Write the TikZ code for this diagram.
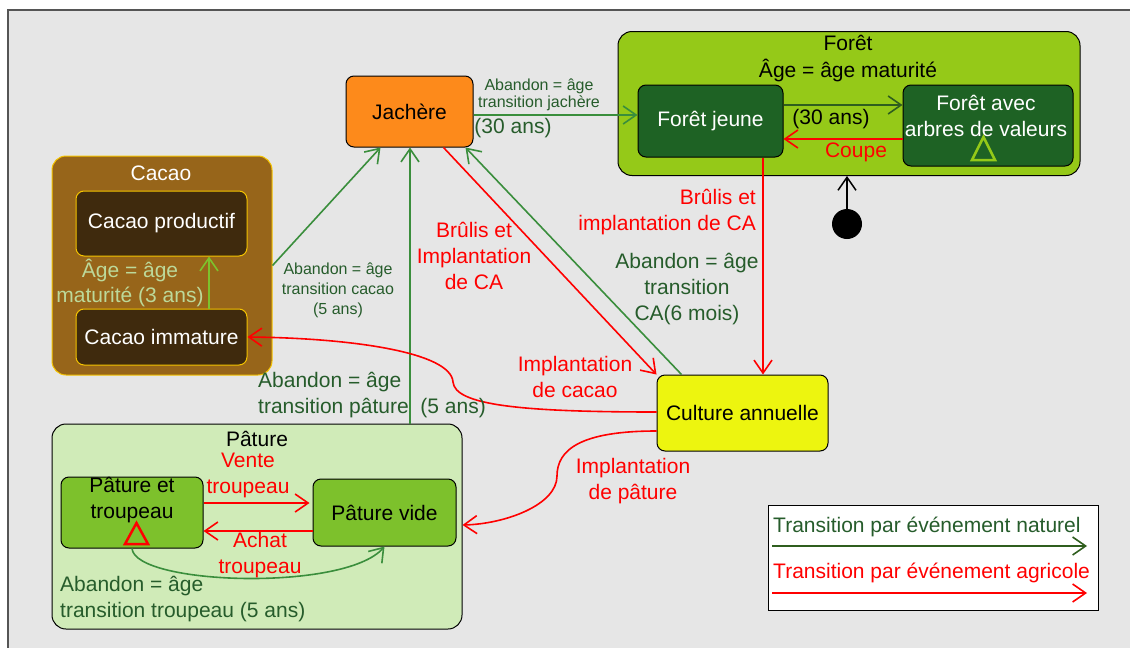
\documentclass[tikz,border=0pt]{standalone}
\usepackage{fontspec}
\setmainfont{Liberation Sans}
\usetikzlibrary{arrows.meta}

\definecolor{bggray}{HTML}{E6E6E6}
\definecolor{framegray}{HTML}{555555}
\definecolor{labelgreen}{HTML}{265C2B}
\definecolor{natgreen}{HTML}{3A8E3C}
\definecolor{forestarrow}{HTML}{2F5E1E}
\definecolor{agrired}{HTML}{FF0000}
\definecolor{jacherefill}{HTML}{FD8A1B}
\definecolor{foretlight}{HTML}{95C918}
\definecolor{foretdark}{HTML}{1E6224}
\definecolor{cacaobrown}{HTML}{97651A}
\definecolor{cacaogold}{HTML}{F5C400}
\definecolor{cacaodark}{HTML}{3F2A0D}
\definecolor{cacaoarrow}{HTML}{7DC22C}
\definecolor{cacaolabel}{HTML}{BCD99A}
\definecolor{culturefill}{HTML}{EDF50F}
\definecolor{paturelight}{HTML}{D0EBB8}
\definecolor{paturedark}{HTML}{7DC12C}

\begin{document}
\begin{tikzpicture}[x=1pt,y=-1pt,>={Straight Barb[length=13pt,width=18pt]}]
        % Define styles
        \tikzset{
            container/.style={rectangle, rounded corners=14pt, draw, line width=1pt},
            state/.style={rectangle, rounded corners=8pt, draw, line width=1pt, align=center, font=\fontsize{21}{26}\selectfont},
            txt/.style={align=center, inner sep=0pt, font=\fontsize{21}{26}\selectfont},
            smalltxt/.style={align=center, inner sep=0pt, font=\fontsize{16}{20}\selectfont},
            natural/.style={->, draw=natgreen, line width=1.6pt},
            agricole/.style={->, draw=agrired, line width=1.6pt},
            marker/.style={line width=2.5pt, line join=miter}
        }

        % Background
        \useasboundingbox (0,0) rectangle (1130,648);
        \draw[fill=bggray, draw=framegray, line width=1.5pt] (8,10) rectangle (1145,665);

        % Containers
        \node[container, fill=foretlight, minimum width=462pt, minimum height=144pt] (foret_node) at (849,103.5) {};
        \node[txt, font=\fontsize{21}{27}\selectfont] (foret_title) at (848,58.5) {Forêt\\Âge = âge maturité};
        \node[container, fill=cacaobrown, draw=cacaogold, minimum width=220pt, minimum height=219pt] (cacao_node) at (162,265.5) {};
        \node[txt, text=white] (cacao_title) at (161,173) {Cacao};
        \node[container, fill=paturelight, minimum width=410pt, minimum height=205pt] (pature_node) at (257,526.5) {};
        \node[txt] (pature_title) at (257,439) {Pâture};

        % Nodes
        \node[state, fill=jacherefill, minimum width=127pt, minimum height=71pt] (jachere_node) at (409.5,111.5) {Jachère};
        \node[state, fill=foretdark, text=white, minimum width=145pt, minimum height=72pt] (foret_jeune_node) at (710.5,121) {Forêt jeune};
        \node[state, fill=foretdark, minimum width=170pt, minimum height=81pt] (foret_valeurs_node) at (988,125.5) {};
        \node[txt, text=white] (foret_valeurs_text) at (986,115.5) {Forêt avec\\arbres de valeurs};
        \draw[marker, draw=foretlight] (972,160) -- (995,160) -- (983.5,137) -- cycle;
        \node[state, fill=cacaodark, draw=cacaogold, text=white, minimum width=171pt, minimum height=65pt] (cacao_productif_node) at (161.5,223.5) {Cacao productif};
        \node[state, fill=cacaodark, draw=cacaogold, text=white, minimum width=171pt, minimum height=56pt] (cacao_immature_node) at (161.5,337) {Cacao immature};
        \node[state, fill=culturefill, minimum width=171pt, minimum height=76pt] (culture_node) at (742.5,413) {Culture annuelle};
        \node[state, fill=paturedark, minimum width=142pt, minimum height=71pt] (pature_troupeau_node) at (132,512.5) {};
        \node[txt] (pature_troupeau_text) at (132,500.5) {Pâture et\\troupeau};
        \draw[marker, draw=agrired] (125,544) -- (148,544) -- (136.5,523) -- cycle;
        \node[state, fill=paturedark, minimum width=143pt, minimum height=67pt] (pature_vide_node) at (384.5,512.5) {Pâture vide};
        \node[circle, fill=black, minimum size=30pt, inner sep=0pt] (init_node) at (847,224) {};

        % Arrows
        \draw[natural] ([yshift=-3.5pt]jachere_node.east) -- ([yshift=-3.5pt]jachere_node.east -| foret_jeune_node.west);
        \draw[->, draw=forestarrow, line width=1.6pt] ([yshift=16pt]foret_jeune_node.east) -- ([yshift=16pt]foret_jeune_node.east -| foret_valeurs_node.west);
        \draw[agricole] ([yshift=-18pt]foret_jeune_node.east -| foret_valeurs_node.west) -- ([yshift=-18pt]foret_jeune_node.east);
        \draw[->, line width=1.5pt] (init_node.north) -- (init_node.north |- foret_node.south);
        \draw[agricole] ([xshift=52.5pt]foret_jeune_node.south) -- ([xshift=52.5pt]foret_jeune_node.south |- culture_node.north);
        \draw[natural] (cacao_node.east) -- ([xshift=-29pt]jachere_node.south);
        \draw[natural] ([xshift=0.5pt]jachere_node.south |- pature_node.north) -- ([xshift=0.5pt]jachere_node.south);
        \draw[agricole] ([xshift=34pt]jachere_node.south) -- (culture_node.north west);
        \draw[natural] ([xshift=25pt]culture_node.north west) -- ([xshift=-8pt]jachere_node.south east);
        \draw[->, draw=cacaoarrow, line width=1.6pt] ([xshift=47.5pt]cacao_immature_node.north) -- ([xshift=47.5pt]cacao_immature_node.north |- cacao_productif_node.south);
        \coordinate (cacao_bend) at (453,382);
        \draw[agricole] ([yshift=1pt]culture_node.west) .. controls (520,412) and (455,405) .. (cacao_bend) .. controls (451,352) and (350,338) .. (cacao_immature_node.east);
        \coordinate (pature_bend) at (557,476);
        \draw[agricole] ([yshift=-18pt]culture_node.west) .. controls (580,431) and (557,450) .. (pature_bend) .. controls (557,505) and (505,524) .. ([yshift=1.5pt]pature_node.east);
        \draw[agricole, shorten >=3pt] ([yshift=9.5pt]pature_troupeau_node.east) -- ([yshift=9.5pt]pature_troupeau_node.east -| pature_vide_node.west);
        \draw[agricole] ([yshift=-18.5pt]pature_troupeau_node.east -| pature_vide_node.west) -- ([yshift=-18.5pt]pature_troupeau_node.east);
        \draw[natural] (pature_troupeau_node.south) .. controls (135,585) and (345,592) .. (pature_vide_node.south);

        % Labels
        \node[smalltxt, text=labelgreen, font=\fontsize{16}{17}\selectfont] (jachere_foret_label) at (539,94.5) {Abandon = âge\\transition jachère};
        \node[txt, text=labelgreen] (jachere_foret_duree) at (513,128) {(30 ans)};
        \node[txt] (foret_duree) at (831,119) {(30 ans)};
        \node[txt, text=agrired] (coupe_label) at (856,152) {Coupe};
        \node[txt, text=agrired, align=right, anchor=east] (foret_brulis_label) at (756,212) {Brûlis et\\implantation de CA};
        \node[txt, text=labelgreen] (culture_abandon_label) at (687,289) {Abandon = âge\\transition\\CA(6 mois)};
        \node[txt, text=agrired] (jachere_brulis_label) at (474,256) {Brûlis et\\Implantation\\de CA};
        \node[txt, text=agrired] (cacao_implantation_label) at (575,376.5) {Implantation\\de cacao};
        \node[smalltxt, text=labelgreen] (cacao_abandon_label) at (338,290) {Abandon = âge\\transition cacao\\(5 ans)};
        \node[txt, text=cacaolabel, font=\fontsize{21}{25}\selectfont] (cacao_age_label) at (130,282.5) {Âge = âge\\maturité (3 ans)};
        \node[txt, text=labelgreen, align=left, anchor=west] (pature_abandon_label) at (258,395.5) {Abandon = âge\\transition pâture\ \ (5 ans)};
        \node[txt, text=agrired] (pature_implantation_label) at (633,481) {Implantation\\de pâture};
        \node[txt, text=agrired] (vente_label) at (248,475.5) {Vente\\troupeau};
        \node[txt, text=agrired] (achat_label) at (260,555.5) {Achat\\troupeau};
        \node[txt, text=labelgreen, align=left, anchor=west] (troupeau_abandon_label) at (60,599) {Abandon = âge\\transition troupeau (5 ans)};

        % Legend
        \node[rectangle, draw, fill=white, line width=1pt, minimum width=330pt, minimum height=105pt] (legend_node) at (933,557.5) {};
        \node[txt, text=labelgreen, anchor=west] (legend_natural_text) at (773,527) {Transition par événement naturel};
        \coordinate (legend_natural_start) at (772,546);
        \coordinate (legend_natural_end) at (1087,546);
        \draw[->, draw=forestarrow, line width=1.6pt] (legend_natural_start) -- (legend_natural_end);
        \node[txt, text=agrired, anchor=west] (legend_agricole_text) at (773,573) {Transition par événement agricole};
        \coordinate (legend_agricole_start) at (772,593);
        \coordinate (legend_agricole_end) at (1087,593);
        \draw[agricole] (legend_agricole_start) -- (legend_agricole_end);
    \end{tikzpicture}
\end{document}
